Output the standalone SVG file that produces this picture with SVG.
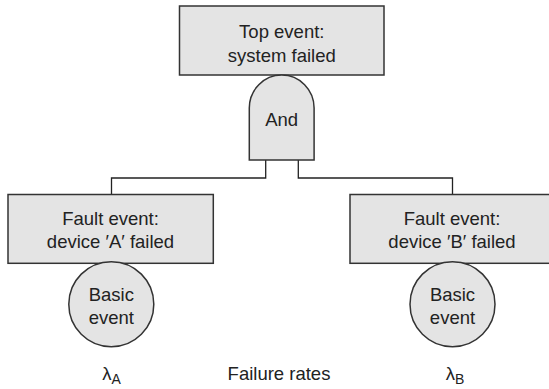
<svg xmlns="http://www.w3.org/2000/svg" width="549" height="389" viewBox="0 0 549 389">
  <style>
    .box { fill: #e4e4e4; stroke: #333; stroke-width: 1.5; }
    .wire { fill: none; stroke: #222; stroke-width: 1.3; }
    text { font-family: "Liberation Sans", Arial, sans-serif; font-size: 18.5px; fill: #222; text-anchor: middle; }
    .sub { font-size: 14px; }
  </style>
  <rect width="549" height="389" fill="#fff"/>

  <!-- connectors: AND gate legs to the two fault events -->
  <g id="connectors">
    <path class="wire" d="M265.7,160 V178 H111.5 V194.5"/>
    <path class="wire" d="M298.3,160 V178 H452.5 V194.5"/>
  </g>

  <g id="top-event">
    <rect class="box" x="179.5" y="6" width="204.5" height="69"/>
    <text x="281.8" y="38">Top event:</text>
    <text x="281.8" y="62">system failed</text>
  </g>

  <g id="and-gate">
    <path class="box" d="M249.3,160 V108 A32.4,33 0 0 1 314.1,108 V160 Z"/>
    <text x="281.7" y="126">And</text>
  </g>

  <g id="fault-a">
    <rect class="box" x="8" y="194.5" width="205.3" height="68.8"/>
    <text x="110.5" y="224.5">Fault event:</text>
    <text x="110.5" y="247.5">device ′A′ failed</text>
  </g>

  <g id="fault-b">
    <rect class="box" x="350" y="194.5" width="205.3" height="68.8"/>
    <text x="452" y="224.5">Fault event:</text>
    <text x="452" y="247.5">device ′B′ failed</text>
  </g>

  <g id="basic-a">
    <circle class="box" cx="111.3" cy="304.2" r="42.5"/>
    <text x="111.3" y="301">Basic</text>
    <text x="111.3" y="323.5">event</text>
  </g>

  <g id="basic-b">
    <circle class="box" cx="452.5" cy="304.2" r="42.5"/>
    <text x="452.5" y="301">Basic</text>
    <text x="452.5" y="323.5">event</text>
  </g>

  <g id="rates">
    <text x="111.5" y="380">λ<tspan class="sub" dy="4">A</tspan></text>
    <text x="279" y="380">Failure rates</text>
    <text x="455" y="380">λ<tspan class="sub" dy="4">B</tspan></text>
  </g>
</svg>
